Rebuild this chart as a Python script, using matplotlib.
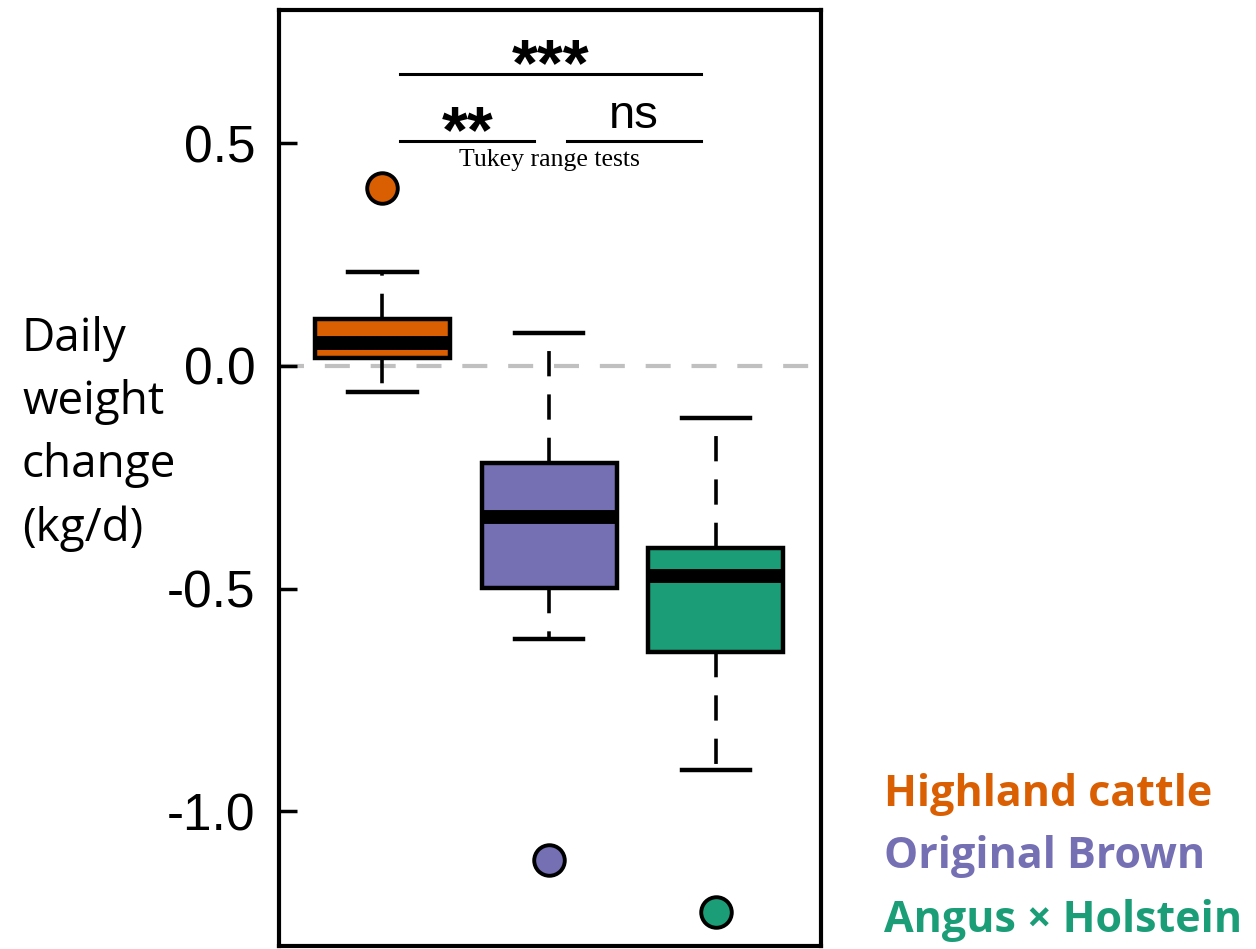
import matplotlib
matplotlib.use("Agg")
import matplotlib.pyplot as plt

plt.rcParams["axes.unicode_minus"] = False

# ---- data -----------------------------------------------------------------
breeds = ["Highland cattle", "Original Brown", "Angus \u00d7 Holstein"]
colors = ["#D95F02", "#7570B3", "#1B9E77"]
whis_lo = [-0.058, -0.614, -0.908]
q1 = [0.018, -0.498, -0.643]
medians = [0.052, -0.340, -0.472]
q3 = [0.105, -0.217, -0.408]
whis_hi = [0.210, 0.074, -0.117]
outliers = [[0.400], [-1.110], [-1.226]]
yticks = [0.5, 0.0, -0.5, -1.0]
ytick_labels = ["0.5", "0.0", "-0.5", "-1.0"]

# Tukey comparisons: (x1, x2, y, label)
comparisons = [(1.108, 2.91, 0.656, "***"), (1.108, 1.91, 0.505, "**"), (2.108, 2.91, 0.505, "ns")]

fig = plt.figure(figsize=(12.56, 9.49), dpi=100)
ax = fig.add_axes([279 / 1256, 1 - 946 / 949, (821 - 279) / 1256, (946 - 10) / 949])

stats = []
for i, name in enumerate(breeds):
    stats.append({"label": name, "whislo": whis_lo[i], "q1": q1[i], "med": medians[i],
                  "q3": q3[i], "whishi": whis_hi[i], "fliers": outliers[i]})

ax.axhline(0, color="#c0c0c0", lw=3, ls=(0, (6, 5)), zorder=0)

bp = ax.bxp(stats, positions=[1, 2, 3], widths=0.81, patch_artist=True,
            capwidths=0.41,
            boxprops=dict(lw=3.2, edgecolor="black"),
            medianprops=dict(color="black", lw=10, solid_capstyle="butt"),
            whiskerprops=dict(color="black", lw=2.6, ls=(0, (7, 5))),
            capprops=dict(color="black", lw=3.2))
for patch, c in zip(bp["boxes"], colors):
    patch.set_facecolor(c)
for fl, c in zip(bp["fliers"], colors):
    fl.set(marker="o", markersize=22, markerfacecolor=c, markeredgecolor="black",
           markeredgewidth=2.8)

ax.set_xlim(0.38, 3.63)
ax.set_ylim(-1.302, 0.799)
ax.set_xticks([])
ax.set_yticks(yticks)
ax.set_yticklabels(ytick_labels, fontsize=37, family="Liberation Sans")
ax.tick_params(axis="y", direction="in", length=13, width=2.5, pad=17)
for s in ax.spines.values():
    s.set_linewidth(3)

for x1, x2, y, lab in comparisons:
    ax.plot([x1, x2], [y, y], color="black", lw=2.2)
    if lab == "ns":
        ax.text((x1 + x2) / 2, y + 0.006, lab, ha="center", va="bottom",
                fontsize=34, family="Liberation Sans")
    else:
        # asterisks sit high in the glyph box, so anchor on the baseline
        ax.text((x1 + x2) / 2, y - 0.025, lab, ha="center", va="baseline",
                fontsize=48, fontweight="bold", family="Liberation Sans")
ax.text(2.0, 0.463, "Tukey range tests", ha="center", va="center",
        fontsize=18.5, family="Liberation Serif")

fig.text(22 / 1256, 1 - 434 / 949, "Daily\nweight\nchange\n(kg/d)", ha="left", va="center",
         fontsize=33, family="Open Sans", linespacing=1.49)

for i, (name, c) in enumerate(zip(breeds, colors)):
    fig.text(884 / 1256, 1 - (794 + 63 * i) / 949, name, color=c, ha="left", va="center",
             fontsize=31, fontweight="bold", family="Open Sans")

fig.savefig("out.png", dpi=100)
